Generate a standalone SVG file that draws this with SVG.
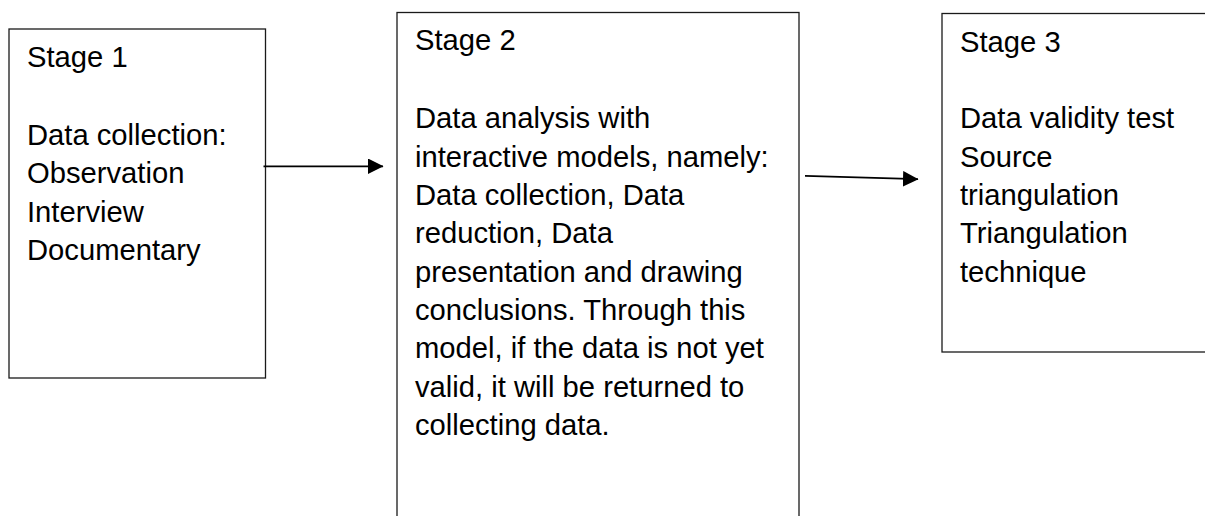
<svg xmlns="http://www.w3.org/2000/svg" width="1205" height="516" viewBox="0 0 1205 516">
<style>
.box{fill:#fff;stroke:#1a1a1a;stroke-width:1.3}
.t{font-family:"Liberation Sans",Arial,sans-serif;font-size:29.2px;fill:#000}
.c{stroke:#000;stroke-width:1.8;fill:none}
</style>
<defs>
<marker id="ah" markerUnits="userSpaceOnUse" markerWidth="16" markerHeight="16" refX="15" refY="7.8" orient="auto">
<path d="M0,0 L15.5,7.8 L0,15.6 z" fill="#000"/>
</marker>
</defs>
<rect width="1205" height="516" fill="#fff"/>
<g id="stage1">
<rect class="box" x="9" y="29" width="256.5" height="349"/>
<text class="t" x="27" y="66.7">Stage 1</text>
<text class="t" x="27" y="145">Data collection:</text>
<text class="t" x="27" y="183.3">Observation</text>
<text class="t" x="27" y="221.7">Interview</text>
<text class="t" x="27" y="260">Documentary</text>
</g>
<g id="stage2">
<rect class="box" x="397" y="12.5" width="402" height="530"/>
<text class="t" x="415" y="50">Stage 2</text>
<text class="t" x="415" y="128.3">Data analysis with</text>
<text class="t" x="415" y="166.7">interactive models, namely:</text>
<text class="t" x="415" y="205">Data collection, Data</text>
<text class="t" x="415" y="243.3">reduction, Data</text>
<text class="t" x="415" y="281.7">presentation and drawing</text>
<text class="t" x="415" y="320">conclusions. Through this</text>
<text class="t" x="415" y="358.3">model, if the data is not yet</text>
<text class="t" x="415" y="396.7">valid, it will be returned to</text>
<text class="t" x="415" y="435">collecting data.</text>
</g>
<g id="stage3">
<rect class="box" x="942" y="13.5" width="290" height="338.5"/>
<text class="t" x="960" y="51.7">Stage 3</text>
<text class="t" x="960" y="128.3">Data validity test</text>
<text class="t" x="960" y="166.7">Source</text>
<text class="t" x="960" y="205">triangulation</text>
<text class="t" x="960" y="243.3">Triangulation</text>
<text class="t" x="960" y="281.7">technique</text>
</g>
<g id="connectors">
<line class="c" x1="263.5" y1="166.3" x2="383" y2="166.3" marker-end="url(#ah)"/>
<line class="c" x1="805" y1="175.8" x2="918" y2="179.2" marker-end="url(#ah)"/>
</g>
</svg>
